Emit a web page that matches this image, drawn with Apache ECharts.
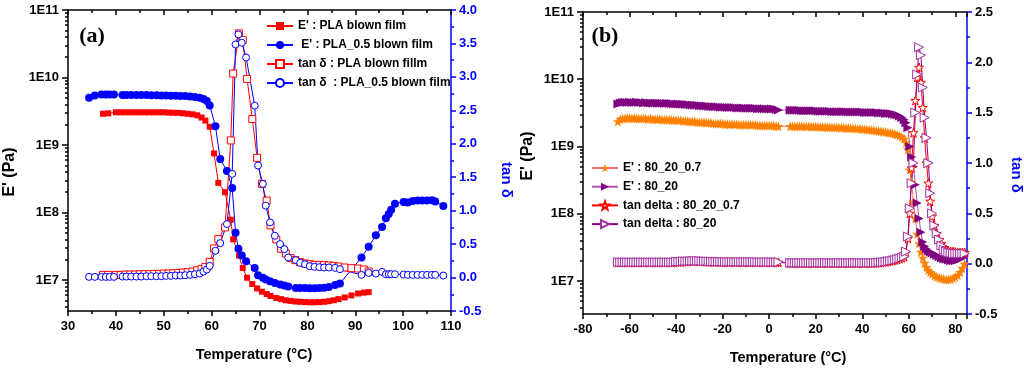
<!DOCTYPE html>
<html><head><meta charset="utf-8">
<script src="https://cdn.jsdelivr.net/npm/echarts@6/dist/echarts.min.js"></script>
<style>html,body{margin:0;padding:0;background:#fff}#c{width:1024px;height:369px}</style>
</head><body><div id="c"></div><script>
// ---------- Panel (a) ----------
const T_PLA = [37.3,38.4,40,41,42,43,44,45,46,47,
 48,49,50,51,52,53,54,55,56,57,
 57.9,58.7,59.6,60.5,61.4,62.8,64.0,64.5,65.7,66.5,
 67.4,68.5,69.5,70.5,71.5,72.3,73.5,74.5,75.5,76.5,
 77.5,78.5,79.5,80.5,81.5,82.5,83.5,84.5,85.5,86.5,
 87.8,89.2,90.6,91.8,92.8];
const E_PLA = [2.9e9,2.95e9,3.05e9,3.05e9,3.05e9,3.05e9,3.05e9,3.05e9,3.05e9,3.05e9,
 3.05e9,3.05e9,3.05e9,3.02e9,3.0e9,3.0e9,2.95e9,2.9e9,2.85e9,2.75e9,
 2.55e9,2.3e9,1.86e9,7.5e8,2.75e8,2.0e8,7.8e7,4.0e7,2.3e7,1.5e7,
 1.08e7,8.7e6,7.5e6,6.7e6,6.2e6,5.8e6,5.4e6,5.2e6,5.0e6,4.9e6,
 4.8e6,4.75e6,4.7e6,4.67e6,4.67e6,4.7e6,4.75e6,4.85e6,5.0e6,5.2e6,
 5.5e6,5.9e6,6.3e6,6.5e6,6.6e6];
const TAN_PLA = [0.04,0.04,0.04,0.04,0.045,0.045,0.045,0.05,0.05,0.05,
 0.055,0.055,0.06,0.06,0.065,0.07,0.075,0.08,0.09,0.11,
 0.13,0.16,0.235,0.435,0.575,0.75,2.05,3.05,3.65,3.55,
 2.97,2.37,1.79,1.4,1.15,0.78,0.57,0.43,0.36,0.29,
 0.26,0.23,0.21,0.2,0.19,0.19,0.185,0.18,0.175,0.165,
 0.15,0.14,0.135,0.12,0.09];

const T_PLA05 = [34.4,35.6,37.0,37.9,38.7,39.6,41.4,42.2,43.2,44.3,
 45.3,46.4,47.4,48.5,49.5,50.5,51.5,52.5,53.5,54.5,
 55.5,56.5,57.5,58.3,59.0,59.6,60.8,61.8,63.2,64.3,
 65.0,65.6,66.3,67.2,69.0,69.7,70.7,71.3,72.2,73.2,
 74.3,75.2,76.0,77.6,78.5,79.5,80.5,81.5,82.5,83.5,
 84.5,85.8,86.8,91.3,92.8,94.3,95.6,96.4,97.0,97.5,
 98.3,100.1,101,102,103,104,105,106,106.7,108.4];
const E_PLA05 = [5.0e9,5.4e9,5.6e9,5.6e9,5.6e9,5.6e9,5.5e9,5.5e9,5.5e9,5.5e9,
 5.5e9,5.5e9,5.45e9,5.45e9,5.4e9,5.4e9,5.35e9,5.35e9,5.3e9,5.3e9,
 5.25e9,5.15e9,5.0e9,4.8e9,4.5e9,3.85e9,1.9e9,6.2e8,4.1e8,2.3e8,
 5.0e7,2.9e7,2.3e7,1.9e7,1.5e7,1.17e7,1.08e7,1.02e7,9.6e6,9.0e6,
 8.6e6,8.3e6,8.0e6,7.6e6,7.6e6,7.6e6,7.55e6,7.55e6,7.6e6,7.7e6,
 7.9e6,8.4e6,8.9e6,2.15e7,3.1e7,4.6e7,6.1e7,8.2e7,9.5e7,1.1e8,
 1.35e8,1.43e8,1.4e8,1.48e8,1.5e8,1.5e8,1.5e8,1.52e8,1.45e8,1.25e8];
const TAN_PLA05 = [0.01,0.01,0.01,0.01,0.01,0.01,0.015,0.015,0.015,0.015,
 0.015,0.02,0.02,0.02,0.02,0.025,0.025,0.03,0.03,0.035,
 0.04,0.05,0.06,0.09,0.12,0.175,0.4,0.515,0.8,1.55,
 3.485,3.635,3.51,3.29,2.57,1.675,1.4,1.075,0.825,0.625,
 0.5,0.425,0.3,0.26,0.22,0.2,0.17,0.16,0.155,0.15,
 0.15,0.145,0.125,0.04,0.07,0.06,0.085,0.05,0.05,0.05,
 0.05,0.045,0.04,0.04,0.04,0.04,0.04,0.04,0.04,0.03];

// ---------- Panel (b) ----------
const T_B = [-65,-64,-63,-62,-61,-60,-59,-58,-57,-56,
 -55,-54,-53,-52,-51,-50,-49,-48,-47,-46,
 -45,-44,-43,-42,-41,-40,-39,-38,-37,-36,
 -35,-34,-33,-32,-31,-30,-29,-28,-27,-26,
 -25,-24,-23,-22,-21,-20,-19,-18,-17,-16,
 -15,-14,-13,-12,-11,-10,-9,-8,-7,-6,
 -5,-4,-3,-2,-1,0,1,2,3,4,
 9,10,11,12,13,14,15,16,17,18,
 19,20,21,22,23,24,25,26,27,28,
 29,30,31,32,33,34,35,36,37,38,
 39,40,41,42,43,44,45,46,47,48,
 49,50,51,52,53,54,55,56,57,
 58,58.8,59.6,60.4,61.2,62,62.8,63.6,64.4,65.2,66,66.8,67.6,68.4,69.2,70,
 71,72,73,74,75,76,77,78,79,80,81,82,83,84];
const E_807 = [2.35e9,2.55e9,2.6e9,2.6e9,2.65e9,2.65e9,2.6e9,2.65e9,2.6e9,2.6e9,
 2.6e9,2.6e9,2.6e9,2.55e9,2.6e9,2.55e9,2.55e9,2.55e9,2.55e9,2.5e9,
 2.5e9,2.5e9,2.5e9,2.5e9,2.45e9,2.45e9,2.45e9,2.45e9,2.4e9,2.4e9,
 2.4e9,2.35e9,2.35e9,2.35e9,2.3e9,2.3e9,2.3e9,2.3e9,2.25e9,2.25e9,
 2.25e9,2.2e9,2.2e9,2.2e9,2.2e9,2.2e9,2.15e9,2.15e9,2.15e9,2.15e9,
 2.15e9,2.15e9,2.1e9,2.1e9,2.1e9,2.1e9,2.1e9,2.1e9,2.1e9,2.1e9,
 2.05e9,2.05e9,2.05e9,2.05e9,2.05e9,2.05e9,2.05e9,2.05e9,2.0e9,2.0e9,
 2.0e9,2.0e9,2.0e9,2.0e9,2.0e9,2.0e9,1.98e9,1.98e9,1.98e9,1.98e9,
 1.96e9,1.96e9,1.96e9,1.95e9,1.95e9,1.95e9,1.94e9,1.94e9,1.93e9,1.92e9,
 1.92e9,1.91e9,1.9e9,1.9e9,1.89e9,1.88e9,1.87e9,1.86e9,1.85e9,1.84e9,
 1.83e9,1.82e9,1.8e9,1.79e9,1.77e9,1.76e9,1.74e9,1.72e9,1.7e9,1.68e9,
 1.66e9,1.64e9,1.62e9,1.6e9,1.57e9,1.54e9,1.5e9,1.45e9,1.38e9,
 1.3e9,1.15e9,9e8,4.5e8,3e8,1.5e8,8.5e7,5e7,3.6e7,2.7e7,2.2e7,1.85e7,1.6e7,1.45e7,1.35e7,1.27e7,
 1.2e7,1.15e7,1.12e7,1.09e7,1.07e7,1.05e7,1.05e7,1.06e7,1.1e7,1.15e7,1.22e7,1.35e7,1.55e7,1.8e7];
const E_8020 = [4.3e9,4.45e9,4.5e9,4.55e9,4.5e9,4.55e9,4.5e9,4.5e9,4.55e9,4.5e9,
 4.5e9,4.45e9,4.5e9,4.45e9,4.45e9,4.4e9,4.45e9,4.4e9,4.4e9,4.4e9,
 4.35e9,4.4e9,4.35e9,4.35e9,4.3e9,4.3e9,4.3e9,4.25e9,4.25e9,4.2e9,
 4.2e9,4.15e9,4.15e9,4.1e9,4.1e9,4.05e9,4.05e9,4.0e9,4.0e9,3.95e9,
 3.95e9,3.9e9,3.9e9,3.9e9,3.85e9,3.85e9,3.85e9,3.8e9,3.8e9,3.8e9,
 3.8e9,3.75e9,3.75e9,3.75e9,3.75e9,3.7e9,3.7e9,3.7e9,3.7e9,3.7e9,
 3.65e9,3.65e9,3.65e9,3.65e9,3.6e9,3.6e9,3.6e9,3.6e9,3.55e9,3.5e9,
 3.45e9,3.45e9,3.45e9,3.45e9,3.45e9,3.4e9,3.4e9,3.4e9,3.4e9,3.4e9,
 3.4e9,3.4e9,3.35e9,3.35e9,3.35e9,3.35e9,3.35e9,3.35e9,3.3e9,3.3e9,
 3.3e9,3.3e9,3.3e9,3.3e9,3.3e9,3.25e9,3.25e9,3.25e9,3.25e9,3.25e9,
 3.25e9,3.25e9,3.2e9,3.2e9,3.2e9,3.2e9,3.2e9,3.2e9,3.15e9,3.15e9,
 3.15e9,3.1e9,3.1e9,3.1e9,3.05e9,3.0e9,2.95e9,2.85e9,2.7e9,
 2.5e9,2.25e9,1.9e9,1.0e9,7e8,5e8,2.7e8,1.45e8,8.5e7,5.3e7,3.8e7,3.3e7,3.0e7,2.8e7,2.7e7,2.6e7,
 2.5e7,2.4e7,2.3e7,2.2e7,2.15e7,2.1e7,2.05e7,2.0e7,2.0e7,2.0e7,2.05e7,2.1e7,2.2e7,2.35e7];
const TAN_807 = [0.012,0.012,0.012,0.012,0.012,0.012,0.012,0.012,0.012,0.012,
 0.012,0.012,0.012,0.012,0.012,0.012,0.012,0.012,0.012,0.012,
 0.012,0.012,0.012,0.012,0.012,0.017,0.017,0.017,0.022,0.022,
 0.022,0.025,0.025,0.025,0.025,0.025,0.022,0.022,0.022,0.019,
 0.019,0.017,0.017,0.017,0.017,0.015,0.015,0.015,0.015,0.015,
 0.015,0.015,0.015,0.015,0.015,0.015,0.015,0.015,0.015,0.015,
 0.013,0.013,0.013,0.013,0.013,0.013,0.013,0.013,0.013,0.013,
 0.005,0.005,0.005,0.005,0.005,0.005,0.005,0.005,0.005,0.005,
 0.005,0.005,0.005,0.005,0.005,0.005,0.005,0.005,0.005,0.005,
 0.005,0.005,0.005,0.005,0.005,0.005,0.005,0.005,0.005,0.005,
 0.005,0.005,0.005,0.005,0.005,0.005,0.005,0.008,0.01,0.012,
 0.015,0.018,0.022,0.026,0.031,0.036,0.042,0.05,0.058,
 0.07,0.11,0.25,0.5,0.95,1.3,1.62,1.85,1.95,1.8,1.55,1.25,1.0,0.8,0.62,0.47,
 0.38,0.3,0.24,0.2,0.16,0.14,0.13,0.12,0.12,0.115,0.11,0.11,0.11,0.11];
const TAN_8020 = [0.015,0.015,0.015,0.015,0.015,0.015,0.015,0.015,0.015,0.015,
 0.015,0.015,0.015,0.015,0.015,0.015,0.015,0.015,0.015,0.015,
 0.015,0.015,0.015,0.015,0.015,0.02,0.02,0.02,0.025,0.025,
 0.025,0.028,0.028,0.028,0.028,0.028,0.025,0.025,0.025,0.022,
 0.022,0.02,0.02,0.02,0.02,0.018,0.018,0.018,0.018,0.018,
 0.018,0.018,0.018,0.018,0.018,0.018,0.018,0.018,0.018,0.018,
 0.016,0.016,0.016,0.016,0.016,0.016,0.016,0.016,0.016,0.016,
 0.008,0.008,0.008,0.008,0.008,0.008,0.008,0.008,0.008,0.008,
 0.008,0.008,0.008,0.008,0.008,0.008,0.008,0.008,0.008,0.008,
 0.008,0.008,0.008,0.008,0.008,0.008,0.008,0.008,0.008,0.008,
 0.008,0.008,0.008,0.008,0.008,0.008,0.008,0.01,0.012,0.014,
 0.016,0.02,0.024,0.028,0.033,0.038,0.045,0.052,0.06,
 0.07,0.12,0.27,0.55,0.8,1.0,1.5,1.88,2.15,2.07,1.75,1.45,1.25,1.0,0.7,0.5,
 0.38,0.3,0.24,0.18,0.14,0.12,0.11,0.105,0.1,0.1,0.1,0.1,0.1,0.1];

const X_TICKS_A = {min: 30, max: 110, interval: 10};
const X_TICKS_B = {min: -80, max: 85, interval: 20};
const LEFT_LOG_A = {min: 3.47e6, max: 1e11};
const LEFT_LOG_B = {min: 3.23e6, max: 1e11};
const RIGHT_A = {min: -0.5, max: 4, interval: 0.5};
const RIGHT_B = {min: -0.5, max: 2.5, interval: 0.5};

const NAMES_A = ["E' : PLA blown film", " E' : PLA_0.5 blown film", "tan \u03b4 : PLA blown fillm", "tan \u03b4  : PLA_0.5 blown film"];
const NAMES_B = ["E' : 80_20_0.7", "E' : 80_20", "tan delta : 80_20_0.7", "tan delta : 80_20"];

// ---------- build ----------
const FONT = '"Liberation Sans", Arial, sans-serif';
const BLACK = '#000', BLUE = '#0000ff', RED = '#ff0000';
const STAR = 'path://M0,-10L2.35,-3.24L9.51,-3.09L3.8,1.24L5.88,8.09L0,4L-5.88,8.09L-3.8,1.24L-9.51,-3.09L-2.35,-3.24Z';
const zip = (xs, ys) => xs.map((x, i) => [x, ys[i]]);
function logMinor(lo, hi) {
  const out = [];
  for (let n = 6; n <= 10; n++) for (let k = 2; k <= 9; k++) {
    const v = n + Math.log10(k);
    if (v > lo && v < hi) out.push(v);
  }
  return out;
}
const lbl = {fontFamily: FONT, fontWeight: 'bold', fontSize: 13, color: BLACK};
const ln = c => ({lineStyle: {color: c, width: 1.5}});

function xAxes(g, t) {
  return [
    {gridIndex: g, type: 'value', position: 'bottom', min: t.min, max: t.max, interval: t.interval,
     axisLine: {onZero: false, ...ln(BLACK)}, axisTick: {length: 5, ...ln(BLACK)},
     minorTick: {show: true, splitNumber: 2, length: 3, ...ln(BLACK)},
     axisLabel: {...lbl, margin: 9, showMaxLabel: t.max % t.interval === 0},
     splitLine: {show: false}},
    {gridIndex: g, type: 'value', position: 'top', min: t.min, max: t.max, interval: t.interval,
     axisLine: {onZero: false, ...ln(BLACK)}, axisTick: {inside: true, length: 5, ...ln(BLACK)},
     minorTick: {show: true, splitNumber: 2, length: 3, ...ln(BLACK)},
     axisLabel: {show: false}, splitLine: {show: false}}
  ];
}
function yAxes(g, lg, r, rightLabelColor) {
  return [
    {gridIndex: g, type: 'log', logBase: 10, position: 'left', min: lg.min, max: lg.max,
     axisLine: {onZero: false, ...ln(BLACK)}, axisTick: {length: 6, ...ln(BLACK)},
     axisLabel: {...lbl, margin: 9, showMinLabel: false,
       formatter: v => '1E' + Math.round(Math.log10(v))},
     splitLine: {show: false}},
    {gridIndex: g, type: 'value', position: 'right', min: r.min, max: r.max, interval: r.interval,
     axisLine: {onZero: false, ...ln(BLUE)}, axisTick: {length: 5, ...ln(BLUE)},
     minorTick: {show: true, splitNumber: 2, length: 3, ...ln(BLUE)},
     axisLabel: {...lbl, color: rightLabelColor, margin: 8, formatter: v => v.toFixed(1)},
     splitLine: {show: false}},
    {gridIndex: g, type: 'value', position: 'left', min: Math.log10(lg.min), max: Math.log10(lg.max),
     axisLine: {show: false, onZero: false},
     axisTick: {show: true, length: 3, customValues: logMinor(Math.log10(lg.min), Math.log10(lg.max)), ...ln(BLACK)},
     axisLabel: {show: false}, splitLine: {show: false}}
  ];
}
function ser(name, xi, yi, xs, ys, symbol, size, fill, border, lineColor, rot) {
  return {name, type: 'line', xAxisIndex: xi, yAxisIndex: yi, data: zip(xs, ys),
    symbol, symbolSize: size, symbolRotate: rot || 0, showAllSymbol: true,
    itemStyle: border ? {color: fill, borderColor: border, borderWidth: 1} : {color: fill, borderWidth: 0},
    lineStyle: {color: lineColor, width: 1}, emphasis: {disabled: true}, z: 3};
}
const legendText = {fontFamily: FONT, fontWeight: 'bold', fontSize: 12, color: BLACK};
const txt = (text, x, y, size, color, rot, family) => ({
  type: 'text', x, y, rotation: rot || 0, z: 100,
  style: {text, x: 0, y: 0, fill: color, align: 'center', verticalAlign: 'middle',
    font: 'bold ' + size + 'px ' + (family || FONT)}
});

const option = {
  animation: false,
  backgroundColor: '#fff',
  grid: [
    {left: 68, right: 573, top: 10, bottom: 58},
    {left: 583, right: 57, top: 12, bottom: 55}
  ],
  xAxis: [...xAxes(0, X_TICKS_A), ...xAxes(1, X_TICKS_B)],
  yAxis: [...yAxes(0, LEFT_LOG_A, RIGHT_A, BLUE), ...yAxes(1, LEFT_LOG_B, RIGHT_B, BLACK)],
  legend: [
    {data: NAMES_A, orient: 'vertical', left: 266, top: 20, itemWidth: 26, itemHeight: 10, itemGap: 7,
     padding: 0, selectedMode: false, textStyle: legendText},
    {data: NAMES_B, orient: 'vertical', left: 591, top: 162, itemWidth: 26, itemHeight: 10, itemGap: 6.7,
     padding: 0, selectedMode: false, textStyle: legendText}
  ],
  series: [
    ser(NAMES_A[0], 0, 0, T_PLA, E_PLA, 'rect', 6, RED, null, RED),
    ser(NAMES_A[1], 0, 0, T_PLA05, E_PLA05, 'circle', 8, BLUE, null, BLUE),
    ser(NAMES_A[2], 0, 1, T_PLA, TAN_PLA, 'rect', 7, '#fff', RED, RED),
    ser(NAMES_A[3], 0, 1, T_PLA05, TAN_PLA05, 'circle', 7, '#fff', BLUE, BLUE),
    ser(NAMES_B[0], 2, 3, T_B, E_807, STAR, 10, '#ff8000', null, '#f07070'),
    ser(NAMES_B[1], 2, 3, T_B, E_8020, 'triangle', 9, '#800080', null, '#b050b0', -90),
    ser(NAMES_B[2], 2, 4, T_B, TAN_807, STAR, 9, '#fff', RED, RED),
    ser(NAMES_B[3], 2, 4, T_B, TAN_8020, 'triangle', 9, '#fff', '#a030a0', '#900090', -90)
  ],
  graphic: [
    txt("E' (Pa)", 9.5, 172, 16, BLACK, Math.PI / 2),
    txt('Temperature (\u00b0C)', 254, 355, 14.5, BLACK),
    txt('tan \u03b4', 506, 180, 15, BLUE, -Math.PI / 2),
    txt("E' (Pa)", 528, 156, 16, BLACK, Math.PI / 2),
    txt('Temperature (\u00b0C)', 788, 358, 14.5, BLACK),
    txt('tan \u03b4', 1016, 175, 15, BLUE, -Math.PI / 2),
    txt('(a)', 92, 36, 22, BLACK, 0, '"Liberation Serif", "Times New Roman", serif'),
    txt('(b)', 605, 36, 22, BLACK, 0, '"Liberation Serif", "Times New Roman", serif')
  ]
};
const chart = echarts.init(document.getElementById('c'), null, {renderer: 'canvas'});
chart.setOption(option);
</script></body></html>
